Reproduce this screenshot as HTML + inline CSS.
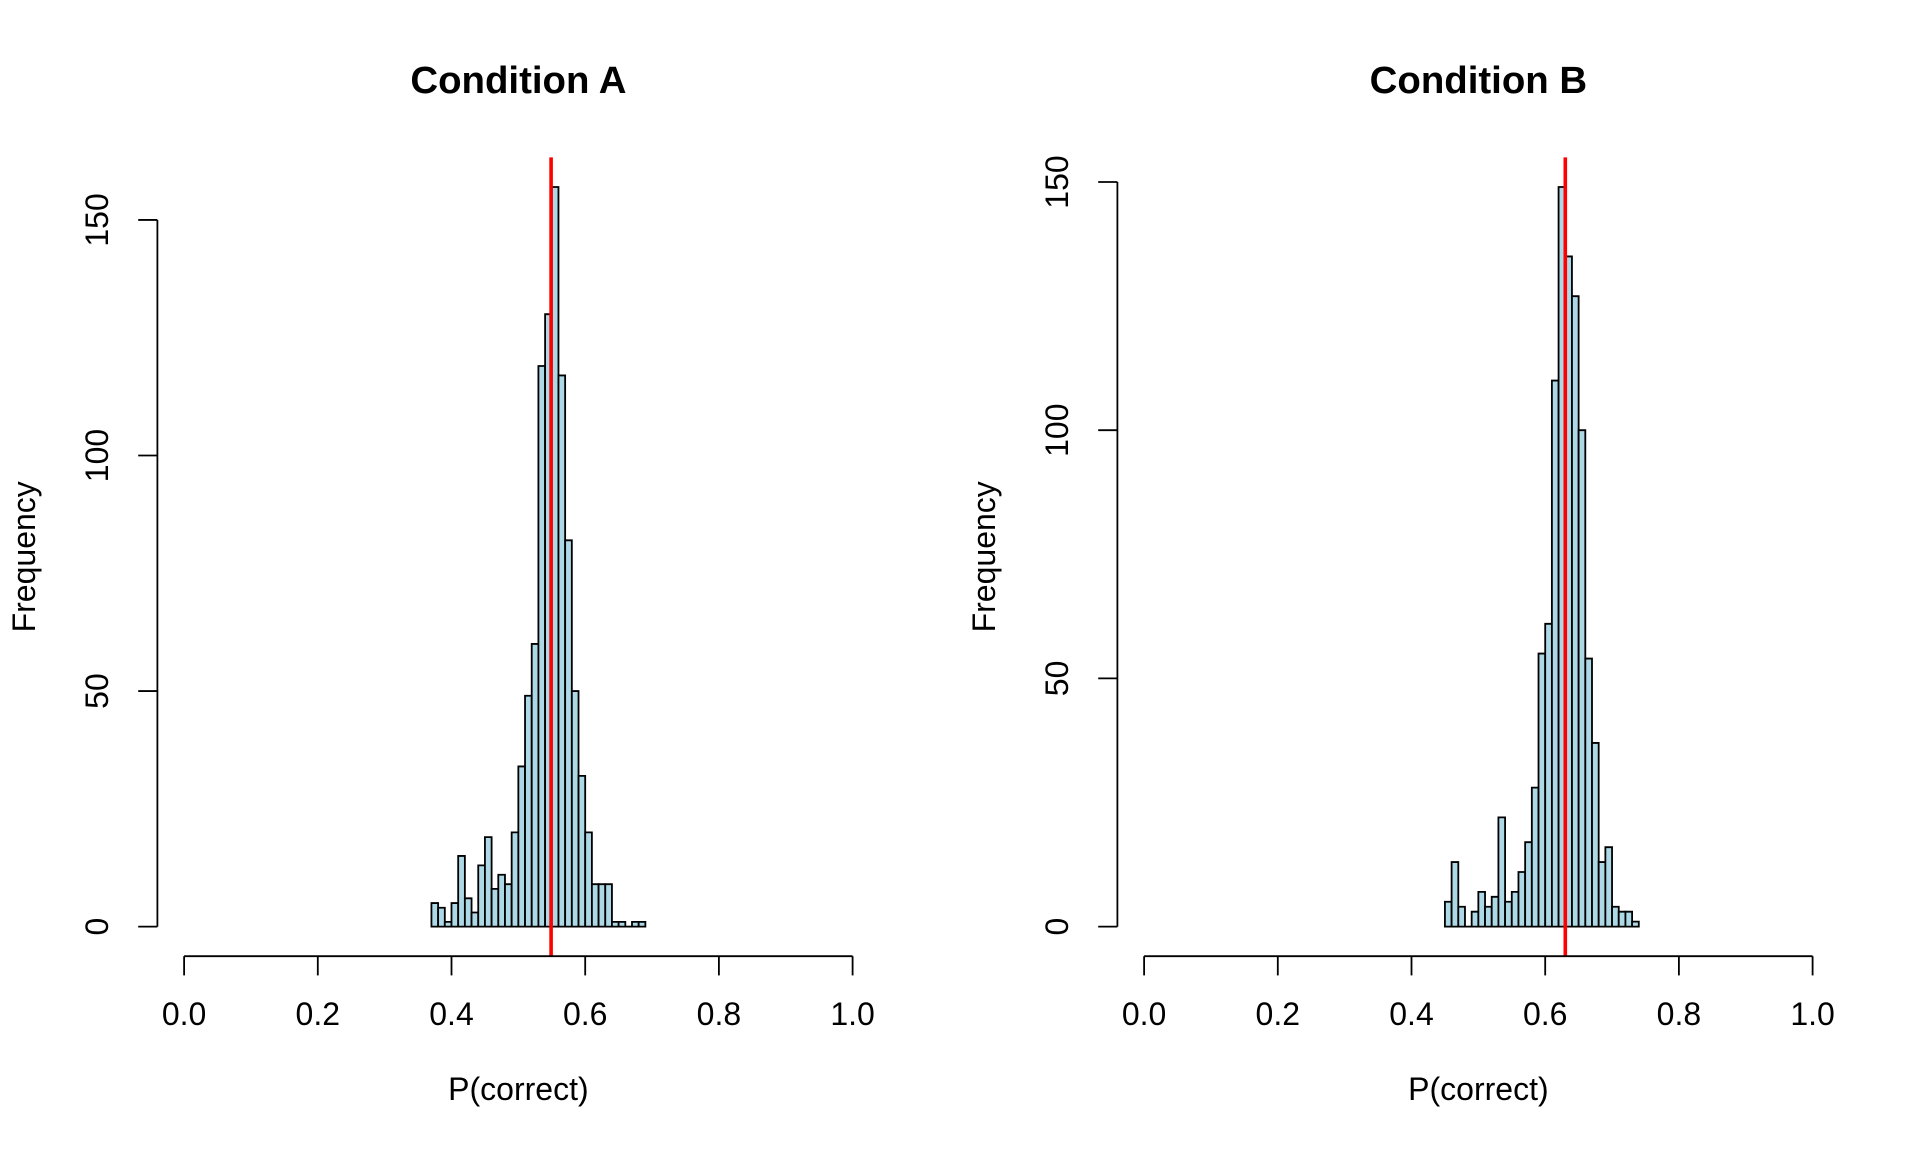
<!DOCTYPE html>
<html>
<head>
<meta charset="utf-8">
<style>
  html, body { margin: 0; padding: 0; background: #ffffff; }
  svg { display: block; }
  text { font-family: "Liberation Sans", Arial, Helvetica, sans-serif; fill: #000; }
  .bar { fill: #ADD8E6; stroke: #000; stroke-width: 1.8; vector-effect: non-scaling-stroke; }
  .zero { stroke: #000; stroke-width: 1.8; vector-effect: non-scaling-stroke; }
  .ax { stroke: #000; stroke-width: 1.8; fill: none; }
  .mean { stroke: #FF0000; stroke-width: 3.6; }
  .tick { font-size: 32px; }
  .lab { font-size: 32px; }
  .title { font-size: 38.4px; font-weight: bold; }
</style>
</head>
<body>
<svg width="1920" height="1152" viewBox="0 0 1920 1152" xmlns="http://www.w3.org/2000/svg">
  <rect x="0" y="0" width="1920" height="1152" fill="#ffffff"/>

  <!-- ================= LEFT PANEL: Condition A ================= -->
  <g transform="matrix(668.5 0 0 -4.711 184.1 926.6)">
    <rect class="bar" x="0.37" y="0" width="0.01" height="5"/>
    <rect class="bar" x="0.38" y="0" width="0.01" height="4"/>
    <rect class="bar" x="0.39" y="0" width="0.01" height="1"/>
    <rect class="bar" x="0.40" y="0" width="0.01" height="5"/>
    <rect class="bar" x="0.41" y="0" width="0.01" height="15"/>
    <rect class="bar" x="0.42" y="0" width="0.01" height="6"/>
    <rect class="bar" x="0.43" y="0" width="0.01" height="3"/>
    <rect class="bar" x="0.44" y="0" width="0.01" height="13"/>
    <rect class="bar" x="0.45" y="0" width="0.01" height="19"/>
    <rect class="bar" x="0.46" y="0" width="0.01" height="8"/>
    <rect class="bar" x="0.47" y="0" width="0.01" height="11"/>
    <rect class="bar" x="0.48" y="0" width="0.01" height="9"/>
    <rect class="bar" x="0.49" y="0" width="0.01" height="20"/>
    <rect class="bar" x="0.50" y="0" width="0.01" height="34"/>
    <rect class="bar" x="0.51" y="0" width="0.01" height="49"/>
    <rect class="bar" x="0.52" y="0" width="0.01" height="60"/>
    <rect class="bar" x="0.53" y="0" width="0.01" height="119"/>
    <rect class="bar" x="0.54" y="0" width="0.01" height="130"/>
    <rect class="bar" x="0.55" y="0" width="0.01" height="157"/>
    <rect class="bar" x="0.56" y="0" width="0.01" height="117"/>
    <rect class="bar" x="0.57" y="0" width="0.01" height="82"/>
    <rect class="bar" x="0.58" y="0" width="0.01" height="50"/>
    <rect class="bar" x="0.59" y="0" width="0.01" height="32"/>
    <rect class="bar" x="0.60" y="0" width="0.01" height="20"/>
    <rect class="bar" x="0.61" y="0" width="0.01" height="9"/>
    <rect class="bar" x="0.62" y="0" width="0.01" height="9"/>
    <rect class="bar" x="0.63" y="0" width="0.01" height="9"/>
    <rect class="bar" x="0.64" y="0" width="0.01" height="1"/>
    <rect class="bar" x="0.65" y="0" width="0.01" height="1"/>
    <line class="zero" x1="0.66" y1="0" x2="0.67" y2="0"/>
    <rect class="bar" x="0.67" y="0" width="0.01" height="1"/>
    <rect class="bar" x="0.68" y="0" width="0.01" height="1"/>
  </g>

  <!-- mean line A -->
  <line class="mean" x1="551.1" y1="157.4" x2="551.1" y2="956.2"/>

  <!-- x axis A -->
  <line class="ax" x1="184.1" y1="956.2" x2="852.6" y2="956.2"/>
  <line class="ax" x1="184.1" y1="956.2" x2="184.1" y2="975.4"/>
  <line class="ax" x1="317.8" y1="956.2" x2="317.8" y2="975.4"/>
  <line class="ax" x1="451.5" y1="956.2" x2="451.5" y2="975.4"/>
  <line class="ax" x1="585.2" y1="956.2" x2="585.2" y2="975.4"/>
  <line class="ax" x1="718.9" y1="956.2" x2="718.9" y2="975.4"/>
  <line class="ax" x1="852.6" y1="956.2" x2="852.6" y2="975.4"/>
  <g class="tick" text-anchor="middle">
    <text x="184.1" y="1025">0.0</text>
    <text x="317.8" y="1025">0.2</text>
    <text x="451.5" y="1025">0.4</text>
    <text x="585.2" y="1025">0.6</text>
    <text x="718.9" y="1025">0.8</text>
    <text x="852.6" y="1025">1.0</text>
  </g>

  <!-- y axis A -->
  <line class="ax" x1="157.4" y1="926.6" x2="157.4" y2="219.95"/>
  <line class="ax" x1="138.2" y1="926.6" x2="157.4" y2="926.6"/>
  <line class="ax" x1="138.2" y1="691.05" x2="157.4" y2="691.05"/>
  <line class="ax" x1="138.2" y1="455.5" x2="157.4" y2="455.5"/>
  <line class="ax" x1="138.2" y1="219.95" x2="157.4" y2="219.95"/>
  <g class="tick" text-anchor="middle">
    <text transform="translate(108,926.6) rotate(-90)">0</text>
    <text transform="translate(108,691.05) rotate(-90)">50</text>
    <text transform="translate(108,455.5) rotate(-90)">100</text>
    <text transform="translate(108,219.95) rotate(-90)">150</text>
  </g>

  <!-- labels A -->
  <text class="title" x="518.4" y="93" text-anchor="middle">Condition A</text>
  <text class="lab" x="518.4" y="1100" text-anchor="middle">P(correct)</text>
  <text class="lab" transform="translate(35,556.8) rotate(-90)" text-anchor="middle">Frequency</text>

  <!-- ================= RIGHT PANEL: Condition B ================= -->
  <g transform="matrix(668.5 0 0 -4.964 1144.1 926.6)">
    <rect class="bar" x="0.45" y="0" width="0.01" height="5"/>
    <rect class="bar" x="0.46" y="0" width="0.01" height="13"/>
    <rect class="bar" x="0.47" y="0" width="0.01" height="4"/>
    <line class="zero" x1="0.48" y1="0" x2="0.49" y2="0"/>
    <rect class="bar" x="0.49" y="0" width="0.01" height="3"/>
    <rect class="bar" x="0.50" y="0" width="0.01" height="7"/>
    <rect class="bar" x="0.51" y="0" width="0.01" height="4"/>
    <rect class="bar" x="0.52" y="0" width="0.01" height="6"/>
    <rect class="bar" x="0.53" y="0" width="0.01" height="22"/>
    <rect class="bar" x="0.54" y="0" width="0.01" height="5"/>
    <rect class="bar" x="0.55" y="0" width="0.01" height="7"/>
    <rect class="bar" x="0.56" y="0" width="0.01" height="11"/>
    <rect class="bar" x="0.57" y="0" width="0.01" height="17"/>
    <rect class="bar" x="0.58" y="0" width="0.01" height="28"/>
    <rect class="bar" x="0.59" y="0" width="0.01" height="55"/>
    <rect class="bar" x="0.60" y="0" width="0.01" height="61"/>
    <rect class="bar" x="0.61" y="0" width="0.01" height="110"/>
    <rect class="bar" x="0.62" y="0" width="0.01" height="149"/>
    <rect class="bar" x="0.63" y="0" width="0.01" height="135"/>
    <rect class="bar" x="0.64" y="0" width="0.01" height="127"/>
    <rect class="bar" x="0.65" y="0" width="0.01" height="100"/>
    <rect class="bar" x="0.66" y="0" width="0.01" height="54"/>
    <rect class="bar" x="0.67" y="0" width="0.01" height="37"/>
    <rect class="bar" x="0.68" y="0" width="0.01" height="13"/>
    <rect class="bar" x="0.69" y="0" width="0.01" height="16"/>
    <rect class="bar" x="0.70" y="0" width="0.01" height="4"/>
    <rect class="bar" x="0.71" y="0" width="0.01" height="3"/>
    <rect class="bar" x="0.72" y="0" width="0.01" height="3"/>
    <rect class="bar" x="0.73" y="0" width="0.01" height="1"/>
  </g>

  <!-- mean line B -->
  <line class="mean" x1="1565.3" y1="157.4" x2="1565.3" y2="956.2"/>

  <!-- x axis B -->
  <line class="ax" x1="1144.1" y1="956.2" x2="1812.6" y2="956.2"/>
  <line class="ax" x1="1144.1" y1="956.2" x2="1144.1" y2="975.4"/>
  <line class="ax" x1="1277.8" y1="956.2" x2="1277.8" y2="975.4"/>
  <line class="ax" x1="1411.5" y1="956.2" x2="1411.5" y2="975.4"/>
  <line class="ax" x1="1545.2" y1="956.2" x2="1545.2" y2="975.4"/>
  <line class="ax" x1="1678.9" y1="956.2" x2="1678.9" y2="975.4"/>
  <line class="ax" x1="1812.6" y1="956.2" x2="1812.6" y2="975.4"/>
  <g class="tick" text-anchor="middle">
    <text x="1144.1" y="1025">0.0</text>
    <text x="1277.8" y="1025">0.2</text>
    <text x="1411.5" y="1025">0.4</text>
    <text x="1545.2" y="1025">0.6</text>
    <text x="1678.9" y="1025">0.8</text>
    <text x="1812.6" y="1025">1.0</text>
  </g>

  <!-- y axis B -->
  <line class="ax" x1="1117.4" y1="926.6" x2="1117.4" y2="182.0"/>
  <line class="ax" x1="1098.2" y1="926.6" x2="1117.4" y2="926.6"/>
  <line class="ax" x1="1098.2" y1="678.4" x2="1117.4" y2="678.4"/>
  <line class="ax" x1="1098.2" y1="430.2" x2="1117.4" y2="430.2"/>
  <line class="ax" x1="1098.2" y1="182.0" x2="1117.4" y2="182.0"/>
  <g class="tick" text-anchor="middle">
    <text transform="translate(1068,926.6) rotate(-90)">0</text>
    <text transform="translate(1068,678.4) rotate(-90)">50</text>
    <text transform="translate(1068,430.2) rotate(-90)">100</text>
    <text transform="translate(1068,182.0) rotate(-90)">150</text>
  </g>

  <!-- labels B -->
  <text class="title" x="1478.4" y="93" text-anchor="middle">Condition B</text>
  <text class="lab" x="1478.4" y="1100" text-anchor="middle">P(correct)</text>
  <text class="lab" transform="translate(995,556.8) rotate(-90)" text-anchor="middle">Frequency</text>
</svg>
</body>
</html>
